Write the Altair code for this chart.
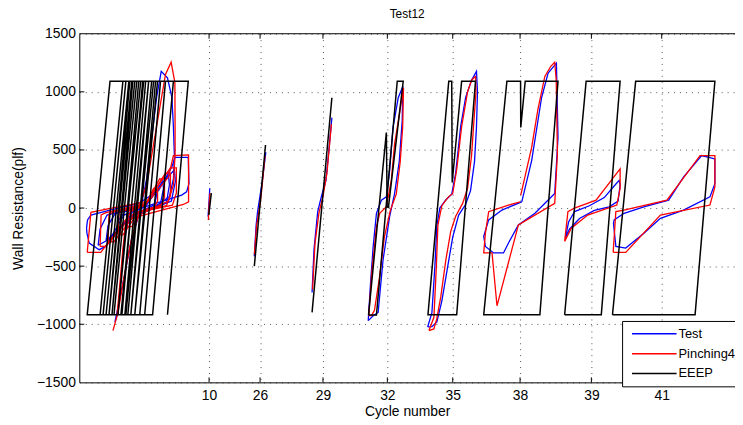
import altair as alt
import pandas as pd

FONT = "Liberation Sans"
SERIES = ["Test", "Pinching4", "EEEP"]
COLORS = ["#0000ff", "#ff0000", "#000000"]

TICK_POS = [211, 262.5, 326, 391, 457, 525, 597, 668]
TICK_LAB = ["10", "26", "29", "32", "35", "38", "39", "41"]
Y_TICKS = [-1500, -1000, -500, 0, 500, 1000, 1500]
X_DOMAIN = [80, 742]
Y_DOMAIN = [-1500, 1500]

# ---------------- Test (blue) ----------------
TEST_S1A = [(128,-140),(130,-60),(136,-15),(147,15),(153,90),(157,150),(158,110),(156,30),(148,-5),(138,-40),(132,-100),(128,-140)]
TEST_S1B = [(118,-210),(120,-100),(126,-30),(147,20),(157,140),(164,230),(165,170),(162,40),(150,-10),(136,-50),(124,-150),(118,-210)]
TEST_S1C = [(107,-280),(109,-150),(116,-50),(147,25),(160,170),(170,280),(171,200),(168,50),(150,-15),(133,-60),(118,-200),(107,-280)]
TEST_S1D = [(99,-320),(101,-180),(108,-60),(147,30),(163,200),(176,330),(177,230),(173,60),(150,-20),(130,-80),(112,-260),(99,-320)]
TEST_S1E = [(142,0),(148,250),(153,600),(158,950),(162.7,1176),(169,1120),(173.5,950),(175,700),(176,450),(175,250),(171,100),(155,0),(140,-60),(132,-300),(124,-650),(116,-980),(119,-900),(122,-600),(125,-300),(130,-80),(142,0)]
TEST_S1F = [(87.3,-173),(88.3,-102),(91.7,-60),(110,-20),(140,40),(160,150),(173.3,352),(176.7,437),(190,437),(190.7,210),(188.3,139),(183.3,111),(150,20),(125,-60),(106.7,-330),(100,-358),(90,-301),(87.7,-216),(87.3,-173)]
TEST_S2 = [(211.7,170),(211,60),(210,-74)]
TEST_S3 = [(256.7,-415),(258.5,-150),(260,-31),(262.3,96),(265,250),(268.3,480)]
TEST_S4 = [(315,-727),(317,-350),(320.7,-31),(324.3,96),(329,239),(332,500),(335,778)]
TEST_S5 = [(371.7,-969),(374,-650),(376.7,-330),(380,-45),(385,68),(390,96),(393.3,324),(396.7,693),(402,950),(406.7,1048),
           (406,750),(403,400),(398.3,125),(393.3,-74),(386.7,-443),(381.7,-898),(376.7,-926),(371.7,-969)]
TEST_S6 = [(431.7,-1023),(436,-900),(439,-500),(441,-150),(444,0),(450,70),(456,120),(460,300),(465,700),(470,950),(476,1100),(481,1176),
           (482,1000),(481,700),(479,400),(475,150),(470,30),(463,-60),(457,-250),(452,-500),(446,-800),(441,-980),(436,-1020),(431.7,-1023)]
TEST_S7 = [(526.7,54),(536.7,409),(546.7,949),(553.3,1162),(561.7,1247),(563.3,608),(560,125),(540,-45),(523.3,-145),(513.3,-301),
           (508.3,-386),(498.3,-386),(490,-330),(488.3,-244),(493.3,-102),(506.7,-17),(526.7,54)]
TEST_S8 = [(570.7,-259),(574,-120),(580,-30),(595,20),(610,90),(620,190),(625,239),(626,200),(624,60),(615,10),(600,-20),(585,-90),(575,-180),(570.7,-259)]
TEST_S9 = [(619.3,-131),(621.7,-330),(631.7,-344),(650,-216),(666.7,-88),(690,-17),(716.7,96),(721.7,210),(721.7,423),(708.3,452),
           (690,267),(675,68),(650,11),(630,-45),(620,-102),(619.3,-131)]

# ---------------- Pinching4 (red) ----------------
PINCH_S1A = [(128,-160),(129,-30),(134,-15),(147,25),(155,170),(159,170),(159,60),(156,10),(142,-25),(133,-160),(128,-160)]
PINCH_S1B = [(119,-230),(120,-40),(125,-25),(147,30),(161,250),(166,250),(166,90),(162,15),(140,-30),(124,-230),(119,-230)]
PINCH_S1C = [(109,-290),(110,-50),(116,-30),(147,35),(167,300),(172,300),(172,110),(168,20),(138,-35),(115,-290),(109,-290)]
PINCH_S1D = [(101,-330),(102,-60),(107,-40),(147,40),(172,345),(178,345),(178,130),(174,25),(135,-45),(107,-330),(101,-330)]
PINCH_S1E = [(140,0),(148,200),(155,550),(162,900),(167,1150),(172.7,1255),(176.5,1080),(176.7,700),(176.7,460),(175,200),(170,60),
             (150,-20),(140,-60),(133,-250),(125,-600),(119,-900),(114,-1054),(118,-930),(121,-650),(124,-350),(127,-120),(132,-30),(140,0)]
PINCH_S1F = [(88,-381),(91.7,-37),(110,-5),(150,60),(170,267),(175,452),(190.3,457),(190.3,54),(185,31),(126.7,-102),(101.7,-381),(88,-381)]
PINCH_S2 = [(212,130),(211,20),(210.3,-102)]
PINCH_S3 = [(256.7,-400),(259,-150),(261.5,-20),(263.5,100),(267.5,450)]
PINCH_S4 = [(315.5,-700),(318,-300),(322,-40),(326,100),(330,300),(334.5,722)]
PINCH_S5 = [(372.3,-926),(375,-585),(380,-159),(383.3,-45),(390,11),(395,239),(398.3,551),(403,800),(407.3,1034),
            (406.5,700),(404,400),(400,120),(394,-20),(388,-250),(383,-600),(378,-880),(375,-926),(372.3,-926)]
PINCH_S6 = [(433,-1054),(438,-940),(440.5,-500),(442,-150),(446,20),(452,90),(457,125),(461,330),(466,700),(472,1000),(476,1100),(480,1133),
            (480.5,1000),(478,700),(476,450),(472,170),(467,40),(460,-70),(455,-200),(450,-450),(445,-760),(441,-950),(438,-1040),(433,-1054)]
PINCH_S7 = [(525.7,111),(536.7,522),(543,850),(550,1133),(556,1220),(560,1255),(561.5,1100),(562.7,466),(560,40),(523.3,-145),
            (501.7,-841),(496.7,-386),(488.3,-386),(490,-216),(493.3,-31),(513.3,26),(525,54)]
PINCH_S8 = [(570,-287),(573.3,-31),(580,0),(601.7,68),(626,338),(626,170),(622.7,26),(593.3,-60),(576.7,-173),(570,-287)]
PINCH_S9 = [(619,-381),(621.7,-31),(630,-17),(673.3,68),(706.7,452),(721.7,452),(721.7,182),(716.7,26),(666.7,-60),(631.7,-381),(619,-381)]

# ---------------- EEEP (black) ----------------
EEEP_S1 = [(136,-918),(159,1091),(131,1091),(110,-918),
           (132,-918),(155,1091),(134,1091),(113,-918),
           (127,-918),(150,1091),(140,1091),(119,-918),
           (122,-918),(145,1091),(144,1091),(123,-918),
           (119,-918),(142,1091),(147,1091),(126,-918),
           (115,-918),(138,1091),(150,1091),(129,-918),
           (113,-918),(136,1091),(153,1091),(132,-918),
           (110,-918),(133,1091),(157,1091),(136,-918),
           (107,-918),(130,1091),(162,1091),(141,-918),
           (104,-918),(127,1091),(167,1091),(146,-918),
           (101,-918),(124,1091),(175,1091),(154,-918),
           (88,-918),(111,1091),(190,1091),(169,-918)]
EEEP_S2 = [(210.7,-60),(213.3,128)]
EEEP_S3 = [(256.7,-500),(268,543)]
EEEP_S4 = [(315,-898),(335,949)]
EEEP_S5A = [(372,-920),(390,650),(390.8,10),(393,10)]
EEEP_S5B = [(372,-920),(380,-920),(401,1091),(407,1091),(392,0)]
EEEP_S6 = [(456.5,220),(466,1091),(480,1091),(461,-918),(432,-918),(453,1091),(456,1091),(456.5,220)]
EEEP_S7 = [(525.7,693),(530.2,1091),(563.3,1091),(545,-918),(488.3,-918),(511.7,1091),(525.5,1091),(525.7,693)]
EEEP_S8 = [(570,-918),(591.7,1091),(626,1091),(607,-918),(570,-918)]
EEEP_S9 = [(618.3,-918),(641.7,1091),(721.7,1091),(701.7,-918),(618.3,-918)]

PIECES = {
    "Test": [TEST_S1A, TEST_S1B, TEST_S1C, TEST_S1D, TEST_S1E, TEST_S1F, TEST_S2, TEST_S3,
             TEST_S4, TEST_S5, TEST_S6, TEST_S7, TEST_S8, TEST_S9],
    "Pinching4": [PINCH_S1A, PINCH_S1B, PINCH_S1C, PINCH_S1D, PINCH_S1E, PINCH_S1F, PINCH_S2, PINCH_S3,
                  PINCH_S4, PINCH_S5, PINCH_S6, PINCH_S7, PINCH_S8, PINCH_S9],
    "EEEP": [EEEP_S1, EEEP_S2, EEEP_S3, EEEP_S4, EEEP_S5A, EEEP_S5B, EEEP_S6, EEEP_S7, EEEP_S8, EEEP_S9],
}

rows = []
for s, plist in PIECES.items():
    for pi, pts in enumerate(plist):
        for k, (x, y) in enumerate(pts):
            rows.append({"series": s, "piece": f"{s}_{pi}", "k": k, "x": x, "y": y})
df = pd.DataFrame(rows)

# inward tick marks (MATLAB style)
TICK_LEN_X = 5
TICK_LEN_Y = 43
trows = []
for p in TICK_POS:
    trows.append({"x": p, "x2": p, "y": Y_DOMAIN[0], "y2": Y_DOMAIN[0] + TICK_LEN_Y})
    trows.append({"x": p, "x2": p, "y": Y_DOMAIN[1], "y2": Y_DOMAIN[1] - TICK_LEN_Y})
for v in Y_TICKS[1:-1]:
    trows.append({"x": X_DOMAIN[0], "x2": X_DOMAIN[0] + TICK_LEN_X, "y": v, "y2": v})
tdf = pd.DataFrame(trows)
bdf = pd.DataFrame([{"x": X_DOMAIN[0], "x2": X_DOMAIN[1], "y": Y_DOMAIN[1]}])

label_expr = "".join(f"datum.value == {p} ? '{l}' : " for p, l in zip(TICK_POS, TICK_LAB)) + "''"

x_scale = alt.Scale(domain=X_DOMAIN, nice=False, zero=False)
y_scale = alt.Scale(domain=Y_DOMAIN, nice=False, zero=False)

x_axis = alt.Axis(values=TICK_POS, labelExpr=label_expr, grid=True, gridDash=[1, 5], gridColor="#555555",
                  gridWidth=1, ticks=False, tickSize=0, domainColor="black", domainWidth=1,
                  labelFont=FONT, labelFontSize=14, labelColor="black", labelPadding=6,
                  labelOverlap=False, labelFlush=False,
                  title="Cycle number", titleFont=FONT, titleFontSize=14, titleFontWeight="normal",
                  titleColor="black", titleY=22, titleBaseline="top")
y_axis = alt.Axis(values=Y_TICKS, format="d", grid=True, gridDash=[1, 5], gridColor="#555555",
                  gridWidth=1, ticks=False, tickSize=0, domainColor="black", domainWidth=1,
                  labelFont=FONT, labelFontSize=14, labelColor="black", labelPadding=4,
                  labelOverlap=False, labelFlush=False,
                  title="Wall Resistance(plf)", titleFont=FONT, titleFontSize=14, titleFontWeight="normal",
                  titleColor="black", titleX=-61, titleY=176, titleBaseline="middle", titleAngle=-90)

legend = alt.Legend(title=None, orient="none", legendX=548, legendY=290, symbolType="stroke",
                    symbolSize=2025, symbolStrokeWidth=1.5, clipHeight=20, rowPadding=0, padding=3,
                    strokeColor="black", fillColor="white", labelFont=FONT, labelFontSize=13,
                    labelColor="black", labelOffset=1, symbolOffset=6)
color = alt.Color("series:N", scale=alt.Scale(domain=SERIES, range=COLORS), legend=legend)


def series_layer(name, sw):
    return alt.Chart(df[df.series == name]).mark_line(strokeWidth=sw).encode(
        x=alt.X("x:Q", scale=x_scale, axis=x_axis),
        y=alt.Y("y:Q", scale=y_scale, axis=y_axis),
        color=color,
        detail="piece:N",
        order="k:Q",
    )


ticks = alt.Chart(tdf).mark_rule(color="black", strokeWidth=1).encode(
    x=alt.X("x:Q", scale=x_scale, axis=x_axis), x2="x2:Q",
    y=alt.Y("y:Q", scale=y_scale, axis=y_axis), y2="y2:Q")
border = alt.Chart(bdf).mark_rule(color="black", strokeWidth=1).encode(
    x=alt.X("x:Q", scale=x_scale, axis=x_axis), x2="x2:Q",
    y=alt.Y("y:Q", scale=y_scale, axis=y_axis))

chart = alt.layer(
    series_layer("Test", 1.3),
    series_layer("Pinching4", 1.3),
    series_layer("EEEP", 1.5),
    ticks, border,
).properties(
    width=662, height=352,
    title=alt.Title("Test12", font=FONT, fontSize=12, fontWeight="normal", color="black", offset=6),
    autosize=alt.AutoSizeParams(type="none"),
    padding={"left": 72, "top": 24, "right": 0, "bottom": 36},
).configure_view(stroke=None)

chart.save("out.html", embed_options={"renderer": "svg", "actions": False})
